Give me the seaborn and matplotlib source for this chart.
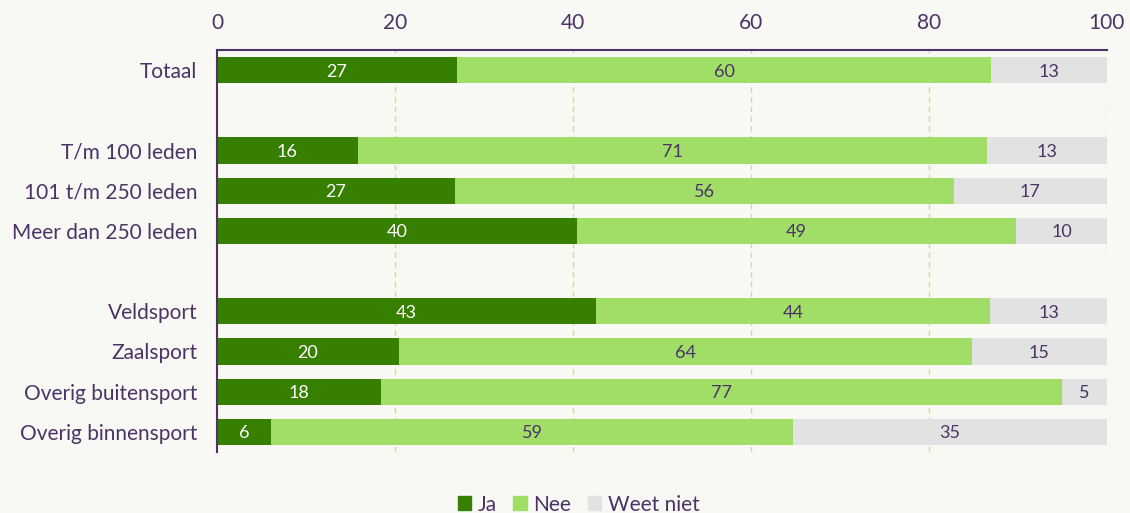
import pandas as pd
import matplotlib.pyplot as plt
import seaborn as sns
import numpy as np

# categorieen, met twee lege regels als scheiding
categorieen = ["Totaal", "leeg1", "T/m 100 leden", "101 t/m 250 leden", "Meer dan 250 leden",
               "leeg2", "Veldsport", "Zaalsport", "Overig buitensport", "Overig binnensport"]
groepen = ["Totaal", "T/m 100 leden", "101 t/m 250 leden", "Meer dan 250 leden",
           "Veldsport", "Zaalsport", "Overig buitensport", "Overig binnensport"]
ja = [27.0, 15.8, 26.7, 40.4, 42.6, 20.4, 18.4, 6.1]
nee = [60.0, 70.7, 56.1, 49.4, 44.3, 64.4, 76.6, 58.6]
weet_niet = [13.0, 13.5, 17.2, 10.2, 13.1, 15.2, 5.0, 35.3]
labels_ja = [27, 16, 27, 40, 43, 20, 18, 6]
labels_nee = [60, 71, 56, 49, 44, 64, 77, 59]
labels_wn = [13, 13, 17, 10, 13, 15, 5, 35]

kleur_ja = "#367f00"
kleur_nee = "#a0de68"
kleur_wn = "#e2e2e2"
tekst = "#4b3366"
achtergrond = "#f8f8f4"

df = pd.DataFrame({"groep": groepen, "ja": ja, "nee": nee, "wn": weet_niet})
df["tot_nee"] = df["ja"] + df["nee"]
df["tot"] = df["tot_nee"] + df["wn"]

plt.rcParams["font.family"] = ["Lato", "DejaVu Sans"]
fig = plt.figure(figsize=(11.3, 5.13), dpi=100, facecolor=achtergrond)
ax = fig.add_axes([0.192, 0.119, 0.7876, 0.7836])
ax.set_facecolor(achtergrond)

# gestapeld: eerst totaal tekenen, daarna eroverheen
sns.barplot(data=df, y="groep", x="tot", order=categorieen, color=kleur_wn,
            width=0.65, ax=ax, orient="h", saturation=1, linewidth=0)
sns.barplot(data=df, y="groep", x="tot_nee", order=categorieen, color=kleur_nee,
            width=0.65, ax=ax, orient="h", saturation=1, linewidth=0)
sns.barplot(data=df, y="groep", x="ja", order=categorieen, color=kleur_ja,
            width=0.65, ax=ax, orient="h", saturation=1, linewidth=0)

# waarden in de balken
for i, g in enumerate(groepen):
    y = categorieen.index(g) + 0.04
    ax.text(ja[i] / 2, y, str(labels_ja[i]), ha="center", va="center", color="white", fontsize=13)
    ax.text(ja[i] + nee[i] / 2, y, str(labels_nee[i]), ha="center", va="center", color=tekst, fontsize=13)
    ax.text(ja[i] + nee[i] + weet_niet[i] / 2, y, str(labels_wn[i]), ha="center", va="center",
            color=tekst, fontsize=13)

ax.set_xlim(0, 100)
ax.set_ylim(9.5, -0.5)
ax.set_xticks([0, 20, 40, 60, 80, 100])
ax.xaxis.tick_top()
ax.set_xlabel("")
ax.set_ylabel("")
ax.set_yticks(range(len(categorieen)))
ax.set_yticklabels([c if not c.startswith("leeg") else "" for c in categorieen])
ax.tick_params(axis="both", length=0, labelsize=15, colors=tekst)
ax.tick_params(axis="x", pad=12)
ax.tick_params(axis="y", pad=14)

ax.set_axisbelow(True)
ax.grid(axis="x", color="#b6ef80", linestyle=(0, (4, 3)), linewidth=1)
ax.grid(axis="y", visible=False)
for kant in ["right", "bottom"]:
    ax.spines[kant].set_visible(False)
for kant in ["top", "left"]:
    ax.spines[kant].set_color(tekst)
    ax.spines[kant].set_linewidth(1.5)

handles = [plt.Rectangle((0, 0), 1, 1, color=c) for c in [kleur_ja, kleur_nee, kleur_wn]]
fig.legend(handles, ["Ja", "Nee", "Weet niet"], loc="lower center", bbox_to_anchor=(0.512, -0.04),
           ncol=3, frameon=False, fontsize=15, labelcolor=tekst, handlelength=0.65,
           handleheight=0.65, handletextpad=0.3, columnspacing=0.8)

plt.savefig("out.png", dpi=100, facecolor=achtergrond)
plt.close()
